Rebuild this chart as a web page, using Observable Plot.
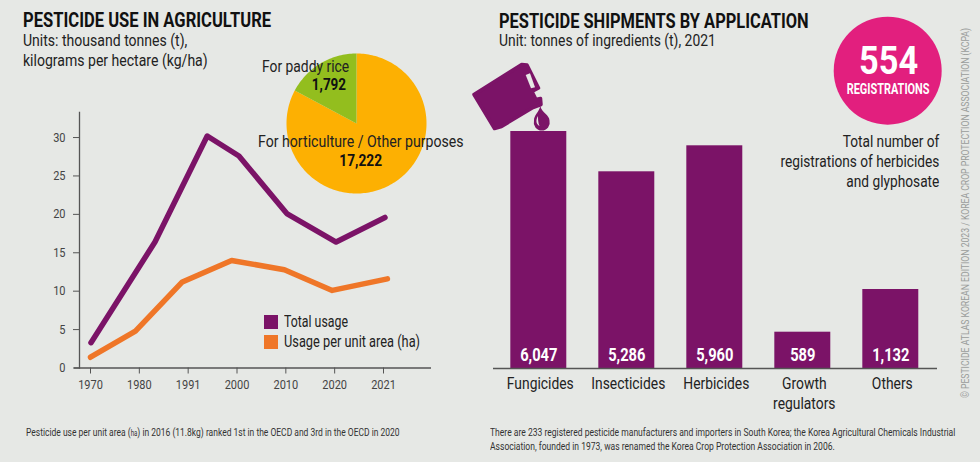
<!DOCTYPE html>
<html>
<head>
<meta charset="utf-8">
<script src="https://cdn.jsdelivr.net/npm/d3@7"></script>
<script src="https://cdn.jsdelivr.net/npm/@observablehq/plot@0.6"></script>
<style>
html,body{margin:0;padding:0;background:#e6e8e5;}
#page{position:relative;width:980px;height:462px;overflow:hidden;background:#e6e8e5;font-family:"Roboto",sans-serif;color:#222;}
#page>svg{position:absolute;left:0;top:0;margin:0;}
.t{position:absolute;white-space:pre;}
.small{font-size:0.72em;}
</style>
</head>
<body>
<div id="page"></div>
<script>
// line chart
const years = ["1970","1980","1991","2000","2010","2020","2021"];
const yTicks = [0,5,10,15,20,25,30];
const totalPos = [0.01,1.32,2.39,3.04,4.02,5.03,6.03];
const totalUse = [3.3,16.4,30.2,27.6,20.1,16.4,19.6];
const perAreaPos = [0,0.92,1.88,2.89,3.97,4.95,6.08];
const perAreaUse = [1.4,4.8,11.2,14.0,12.8,10.1,11.6];
const legendLabels = ["Total usage","Usage per unit area (ha)"];
// pie
const pieNames = ["For paddy rice","For horticulture / Other purposes"];
const pieValues = [1792,17222];
const pieDrawnShares = [0.172,0.828]; // the slice sizes as drawn in the picture
// bars
const categories = ["Fungicides","Insecticides","Herbicides","Growth\nregulators","Others"];
const tonnes = [6047,5286,5960,589,1132];

const PURPLE="#7b1367", ORANGE="#ef7628", AMBER="#fdb002", GREEN="#93be1e", PINK="#e21f7e", AXIS="#555", BG="#e6e8e5";
const FONT='"Roboto",sans-serif';
const page=document.getElementById("page");
const base={width:980,height:462,style:{background:"transparent",fontFamily:FONT,overflow:"visible",position:"absolute",left:0,top:0}};

// squeeze the SVG text of a plot horizontally, as the original face is a condensed one
function condense(svg,rules){
  rules.forEach(([selector,k])=>{
    svg.querySelectorAll(selector).forEach(el=>{
      const spans=el.querySelectorAll("tspan");
      (spans.length?[...spans]:[el]).forEach(n=>{
        n.setAttribute("textLength",n.getComputedTextLength()*k);
        n.setAttribute("lengthAdjust","spacingAndGlyphs");
      });
    });
  });
}

// Line chart
const rows=(pos,val,s)=>pos.map((p,i)=>({p,v:val[i],s}));
const lineData=[...rows(totalPos,totalUse,"total"),...rows(perAreaPos,perAreaUse,"area")];
const linePlot=Plot.plot({...base,
  marginLeft:79,marginRight:549,marginTop:112,marginBottom:94.5,
  x:{domain:[0,6],range:[90,383]},
  y:{domain:[0,33.26]},
  marks:[
    Plot.axisY({ticks:yTicks,tickSize:6,tickPadding:8,fontSize:12.5,stroke:AXIS,color:"#444",label:null}),
    Plot.axisX({ticks:d3.range(years.length),tickFormat:i=>years[i],tickSize:6,tickPadding:6,fontSize:12.5,stroke:AXIS,color:"#444",label:null}),
    Plot.frame({anchor:"left",stroke:AXIS,strokeWidth:1.3}),
    Plot.ruleY([0],{stroke:AXIS,strokeWidth:1.3,insetLeft:-5}),
    Plot.line(lineData,{x:"p",y:"v",z:"s",stroke:d=>d.s==="total"?PURPLE:ORANGE,strokeWidth:5.5,strokeLinecap:"round",strokeLinejoin:"round",curve:"linear"})
  ]
});
page.append(linePlot);
condense(linePlot,[["text",0.88]]);

// Pie
const arcs=d3.pie().value(d=>d).sort(null).startAngle(0).endAngle(2*Math.PI)([pieDrawnShares[1],pieDrawnShares[0]]);
const slicePoints=[];
arcs.forEach((a,i)=>{
  const n=Math.ceil((a.endAngle-a.startAngle)*40);
  slicePoints.push({px:0,py:0,k:i});
  for(let j=0;j<=n;j++){
    const t=a.startAngle+(a.endAngle-a.startAngle)*j/n;
    slicePoints.push({px:Math.sin(t),py:Math.cos(t),k:i});
  }
  slicePoints.push({px:0,py:0,k:i});
});
page.append(Plot.plot({...base,
  marginLeft:286,marginRight:554,marginTop:53,marginBottom:269,
  x:{domain:[-1,1],axis:null},y:{domain:[-1,1],axis:null},
  marks:[Plot.line(slicePoints,{x:"px",y:"py",z:"k",fill:d=>d.k===0?AMBER:GREEN,stroke:"none",curve:"linear"})]
}));

// Bars
const barData=categories.map((c,i)=>({c,t:tonnes[i]}));
const barPlot=Plot.plot({...base,
  marginLeft:493,marginRight:43,marginTop:100,marginBottom:94,
  x:{type:"band",domain:categories,range:[494.3,934.3],paddingInner:0.364,paddingOuter:0.182,align:0.5,round:false},
  y:{type:"linear",domain:[0,589,1132,5286,5960,6047],range:[368,331.7,289,171.3,145.3,131],axis:null},
  marks:[
    Plot.barY(barData,{x:"c",y:"t",fill:PURPLE}),
    Plot.ruleY([0],{stroke:AXIS,strokeWidth:1.3}),
    Plot.axisX({tickSize:0,tickPadding:6,fontSize:16.5,lineHeight:1.21,color:"#222",label:null,dx:1.5}),
    Plot.text(barData,{x:"c",text:d=>d3.format(",")(d.t),frameAnchor:"bottom",dy:-8,fill:"#fff",fontWeight:700,fontSize:17.5})
  ]
});
page.append(barPlot);
condense(barPlot,[["text",0.84]]);

// Jug icon and badge
const icon=document.createElementNS("http://www.w3.org/2000/svg","svg");
icon.setAttribute("width",980);icon.setAttribute("height",462);
icon.innerHTML=`
<path d="M474,94.5 L521.7,64.5 L527,65 L538.5,88 L532,91.5 L536,99.5 L540.5,98.5 L541,104.5 L533,107.5 L501.5,126.5 L494.5,128.5 Z" fill="${PURPLE}" stroke="${PURPLE}" stroke-width="3.5" stroke-linejoin="round"/>
<path d="M525.7,75 L530,73.3 L535,87.3 L531,88.3 Z" fill="${BG}"/>
<path d="M540.3,106 C542,113 549.5,115 549.5,120.5 A8,8 0 1 1 534,120.5 C534,115 538.5,113 540.3,106 Z" fill="${PURPLE}"/>
<path d="M538,116 C535.5,120 536,124.5 539.5,126 C538,122.5 538,119 538,116 Z" fill="${BG}"/>
<circle cx="887.7" cy="70.7" r="54" fill="${PINK}"/>`;
page.append(icon);

// Text: anchor = l | c | r, width = target width of the widest line
function txt(html,anchor,x,yTop,size,width,opt={}){
  const d=document.createElement("div");d.className="t";d.innerHTML=html;
  const lh=opt.lh||size*1.2;
  Object.assign(d.style,{fontSize:size+"px",lineHeight:lh+"px",left:"0px",top:yTop+"px",fontWeight:opt.bold?700:400,color:opt.color||"#222",textAlign:{l:"left",c:"center",r:"right"}[anchor]});
  page.append(d);
  const w=d.offsetWidth,k=width/w;
  const left=anchor==="l"?x:anchor==="c"?x-w/2:x-w;
  d.style.left=left+"px";
  d.style.transformOrigin={l:"0 0",c:"50% 0",r:"100% 0"}[anchor];
  d.style.transform=`scaleX(${k})`;
  return d;
}
txt("PESTICIDE USE IN AGRICULTURE","l",23,9,19.5,248,{bold:true,color:"#111"});
txt("Units: thousand tonnes (t),\nkilograms per hectare (kg/ha)","l",23,30.5,16.5,184.7,{lh:20});
txt(pieNames[0],"l",261.7,57,16.5,87.3);
txt(d3.format(",")(pieValues[0]),"c",329,75,16.5,34.3,{bold:true,color:"#111"});
txt(pieNames[1],"l",257.7,132,16.5,205.6);
txt(d3.format(",")(pieValues[1]),"c",360.5,150.5,16.5,42.4,{bold:true,color:"#111"});
txt("PESTICIDE SHIPMENTS BY APPLICATION","l",499.3,9.5,19.5,310,{bold:true,color:"#111"});
txt("Unit: tonnes of ingredients (t), 2021","l",499.3,31,16.5,217);
txt("554","c",888,43.4,39,59,{bold:true,color:"#fff",lh:36});
txt("REGISTRATIONS","c",888,81,14,82.6,{bold:true,color:"#fff"});
txt("Total number of\nregistrations of herbicides\nand glyphosate","r",939.3,132,16.5,158.6,{lh:20});
// legend
[[PURPLE,315,legendLabels[0],64],[ORANGE,335,legendLabels[1],136]].forEach(([col,y,l,w])=>{
  const sw=document.createElement("div");
  Object.assign(sw.style,{position:"absolute",left:"264px",top:y+"px",width:"14px",height:"14px",background:col});
  page.append(sw);
  txt(l,"l",284,y-3,16,w);
});
txt('Pesticide use per unit area (<span class="small">ha</span>) in 2016 (11.8kg) ranked 1st in the OECD and 3rd in the OECD in 2020',"l",26,426,11.3,374,{lh:14,color:"#333"});
txt("There are 233 registered pesticide manufacturers and importers in South Korea; the Korea Agricultural Chemicals Industrial\nAssociation, founded in 1973, was renamed the Korea Crop Protection Association in 2006.","l",490,426,11.3,465.7,{lh:14,color:"#333"});
// vertical credit
const credit=document.createElement("div");credit.className="t";
credit.textContent="© PESTICIDE ATLAS KOREAN EDITION 2023 / KOREA CROP PROTECTION ASSOCIATION (KCPA)";
Object.assign(credit.style,{fontSize:"11.5px",lineHeight:"12px",color:"#9a9d9b",left:"959px",top:"398px",transformOrigin:"0 0"});
page.append(credit);
credit.style.transform=`rotate(-90deg) scaleX(${370/credit.offsetWidth})`;
</script>
</body>
</html>
